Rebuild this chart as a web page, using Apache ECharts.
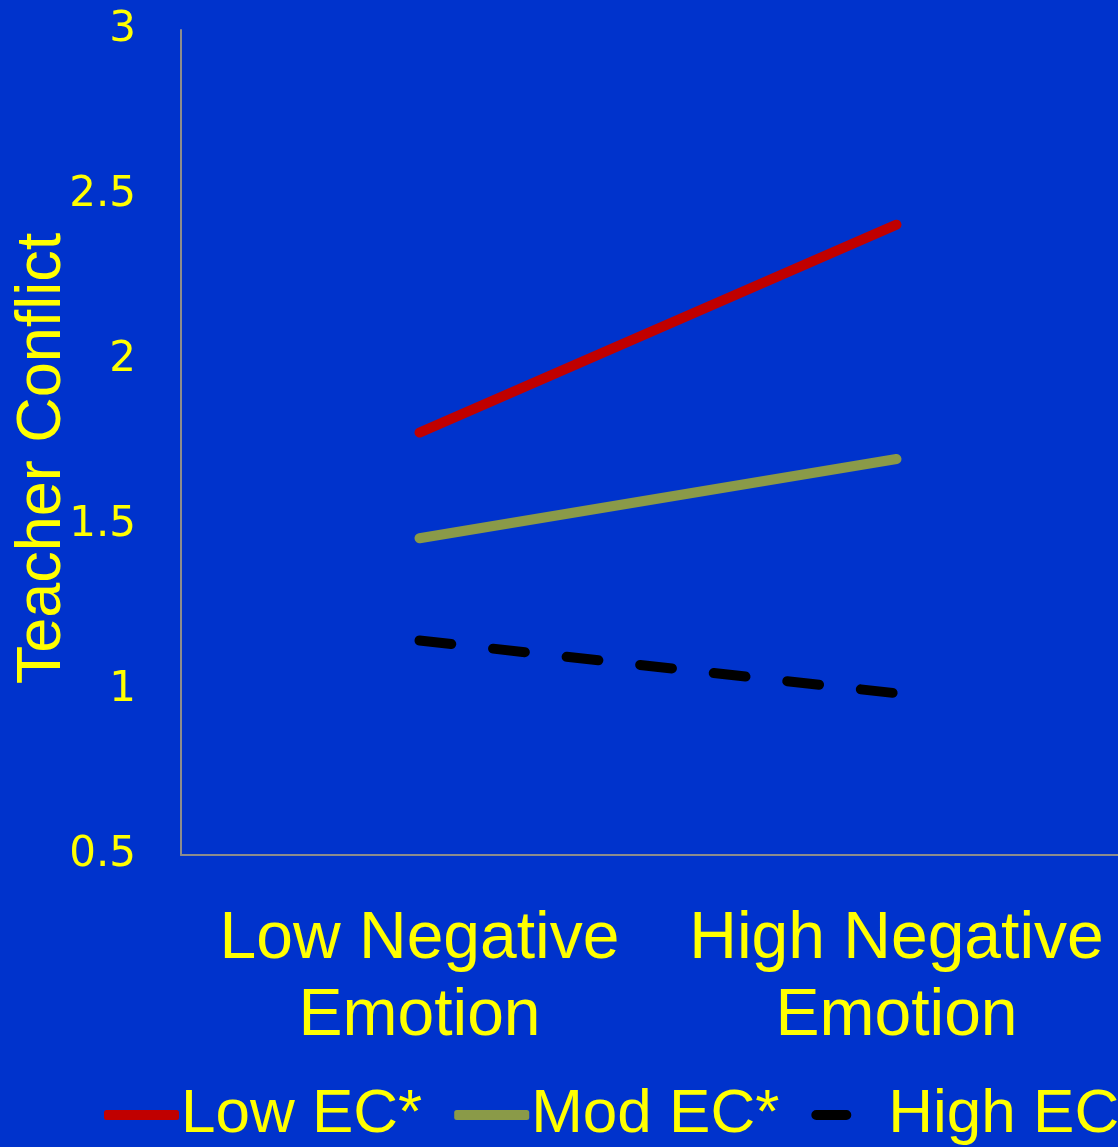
<!DOCTYPE html>
<html>
<head>
<meta charset="utf-8">
<script src="https://cdn.jsdelivr.net/npm/echarts@6/dist/echarts.min.js"></script>
<style>
html,body{margin:0;padding:0;background:#0033CC;}
#chart{width:1118px;height:1147px;}
</style>
</head>
<body>
<div id="chart"></div>
<script>
const categories = ['Low Negative\nEmotion', 'High Negative\nEmotion'];
const lowEC = [1.78, 2.41];
const modEC = [1.46, 1.70];
const highEC = [1.15, 0.99];
const seriesNames = ['Low EC*', 'Mod EC*', 'High EC'];
const yTicks = { min: 0.5, max: 3, interval: 0.5 };

const yellow = '#FFFF00';
const colors = ['#C00000', '#8A9A48', '#000000'];
const dashIcon = 'path://M5,0 h30 a5,5 0 0 1 0,10 h-30 a5,5 0 0 1 0,-10 z M74.95,5 h0.05 v0.05 h-0.05 z';
const chart = echarts.init(document.getElementById('chart'));
chart.setOption({
  backgroundColor: '#0033CC',
  animation: false,
  grid: { left: 181, right: -17, top: 30, bottom: 292, containLabel: false, outerBoundsMode: 'none' },
  legend: {
    left: 104,
    top: 1084,
    width: 1300,
    itemWidth: 75,
    itemHeight: 10,
    itemGap: 32,
    padding: 0,
    textStyle: { color: yellow, fontSize: 62, fontFamily: 'Liberation Sans', padding: [0, 0, 0, -3] },
    data: [
      { name: seriesNames[0], icon: 'roundRect', itemStyle: { color: colors[0] } },
      { name: seriesNames[1], icon: 'roundRect', itemStyle: { color: colors[1] } },
      { name: seriesNames[2], icon: dashIcon, itemStyle: { color: colors[2] } }
    ]
  },
  xAxis: {
    type: 'category',
    data: categories,
    boundaryGap: true,
    axisLine: { lineStyle: { color: '#8C8C8C', width: 2 } },
    axisTick: { show: false },
    axisLabel: { color: yellow, fontSize: 66, fontFamily: 'Liberation Sans', lineHeight: 77, margin: 46, interval: 0 }
  },
  yAxis: {
    type: 'value',
    min: yTicks.min, max: yTicks.max, interval: yTicks.interval,
    name: 'Teacher Conflict',
    nameLocation: 'middle',
    nameGap: 107,
    nameMoveOverlap: false,
    nameTextStyle: { color: yellow, fontSize: 63, fontFamily: 'Liberation Sans', padding: [0, 32, 0, 0] },
    axisLine: { show: true, lineStyle: { color: '#8C8C8C', width: 2 } },
    axisTick: { show: false },
    splitLine: { show: false },
    axisLabel: { color: yellow, fontSize: 42, fontFamily: 'DejaVu Sans', margin: 45 }
  },
  series: [
    { name: seriesNames[0], type: 'line', data: lowEC, symbol: 'none', itemStyle: { color: colors[0] },
      lineStyle: { color: colors[0], width: 10, cap: 'round' } },
    { name: seriesNames[1], type: 'line', data: modEC, symbol: 'none', itemStyle: { color: colors[1] },
      lineStyle: { color: colors[1], width: 10, cap: 'round' } },
    { name: seriesNames[2], type: 'line', data: highEC, symbol: 'none', itemStyle: { color: colors[2] },
      lineStyle: { color: colors[2], width: 10, cap: 'round', type: [32, 42] } }
  ]
});
</script>
</body>
</html>
